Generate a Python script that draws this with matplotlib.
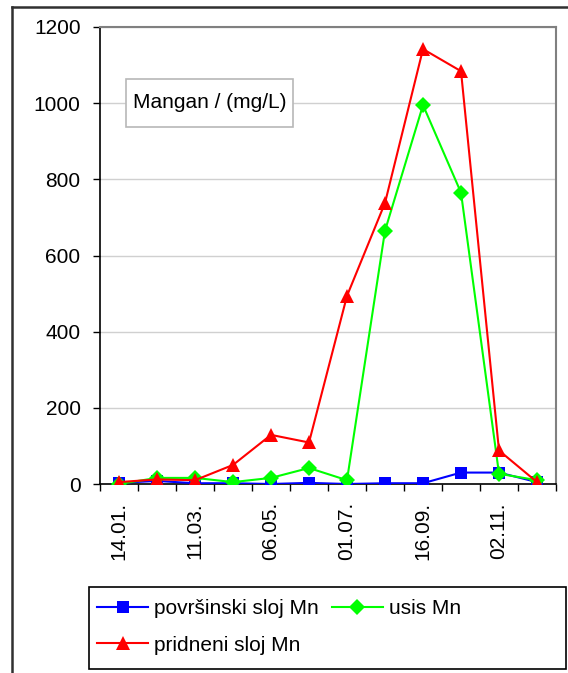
import matplotlib
matplotlib.use("Agg")
import matplotlib.pyplot as plt
from matplotlib.lines import Line2D
from matplotlib.patches import Rectangle
import numpy as np

plt.rcParams['font.family'] = ['Liberation Sans', 'DejaVu Sans']

# Data
tick_labels = ["14.01.", "11.03.", "06.05.", "01.07.", "16.09.", "02.11."]
n_points = 12
povrsinski = [3, 8, 2, 2, 0, 3, 0, 2, 2, 30, 30, 5]
usis = [0, 16, 16, 5, 16, 42, 10, 665, 995, 765, 27, 10]
pridneni = [5, 12, 10, 50, 129, 109, 494, 738, 1142, 1084, 88, 5]
series_names = ["površinski sloj Mn", "usis Mn", "pridneni sloj Mn"]
y_ticks = [0, 200, 400, 600, 800, 1000, 1200]

FS = 15
W, H = 568, 673
fig = plt.figure(figsize=(W / 100, H / 100), dpi=100)

def fx(px):
    return px / W

def fy(py):
    return 1 - py / H

left, right, top, bottom = 100, 556, 27, 484
ax = fig.add_axes([fx(left), fy(bottom), fx(right) - fx(left), fy(top) - fy(bottom)])

x = np.arange(n_points)
l1, = ax.plot(x, povrsinski, color="#0000ff", marker="s", markersize=9, lw=1.5,
              markeredgewidth=0, label=series_names[0], zorder=3)
l2, = ax.plot(x, usis, color="#00ff00", marker="D", markersize=8.5, lw=1.5,
              markeredgewidth=0, label=series_names[1], zorder=4)
l3, = ax.plot(x, pridneni, color="#ff0000", marker="^", markersize=10.5, lw=1.5,
              markeredgewidth=0, label=series_names[2], zorder=5)

ax.set_xlim(-0.5, n_points - 0.5)
ax.set_ylim(0, 1200)
ax.set_yticks(y_ticks)
ax.set_yticklabels([str(v) for v in y_ticks], fontsize=FS)
ax.yaxis.grid(True, color="#d0d0d0", lw=1)
ax.set_axisbelow(True)

# x tick labels at every other category
ax.set_xticks(np.arange(0, n_points, 2))
ax.set_xticklabels(tick_labels, rotation=90, fontsize=FS)
ax.tick_params(axis="x", length=0, pad=13)
ax.set_xticks(np.arange(-0.5, n_points, 1), minor=True)
ax.tick_params(axis="x", which="minor", length=5, width=1, color="black", direction="out")
ax.tick_params(axis="y", length=5, width=1, direction="out", pad=9)

for s in ["left", "bottom"]:
    ax.spines[s].set_color("black")
    ax.spines[s].set_linewidth(1.2)
for s in ["right", "top"]:
    ax.spines[s].set_color("#808080")
    ax.spines[s].set_linewidth(1.5)

# Title box
fig.add_artist(Rectangle((fx(126), fy(127)), fx(293) - fx(126), fy(79) - fy(127),
                         transform=fig.transFigure, facecolor="white",
                         edgecolor="#b8b8b8", lw=1.2, zorder=6))
fig.text(fx(209.5), fy(103), "Mangan / (mg/L)", fontsize=FS, va="center", ha="center",
         zorder=7)

# Legend box
fig.add_artist(Rectangle((fx(89), fy(669)), fx(566) - fx(89), fy(587) - fy(669),
                         transform=fig.transFigure, facecolor="white",
                         edgecolor="black", lw=1.2, zorder=1))
leg = fig.legend(handles=[l1, l3, l2], labels=[series_names[0], series_names[2], series_names[1]],
                 ncol=2, loc="upper left",
                 bbox_to_anchor=(fx(97), fy(599)),
                 fontsize=FS, frameon=False,
                 handlelength=2.45, handletextpad=0.3,
                 columnspacing=0.6, borderaxespad=0, labelspacing=0.85, borderpad=0)
leg.set_zorder(2)

# Outer frame
fig.add_artist(Line2D([fx(12), 1], [fy(7), fy(7)], color="#303030", lw=1.8))
fig.add_artist(Line2D([fx(12), fx(12)], [fy(7), 0], color="#303030", lw=1.8))

fig.savefig("out.png", dpi=100)
